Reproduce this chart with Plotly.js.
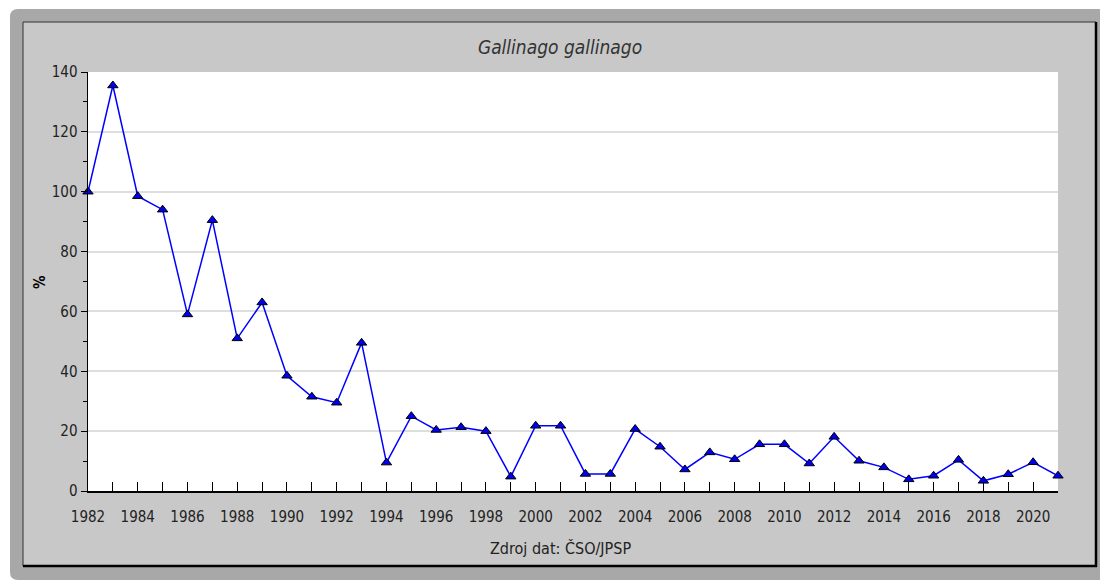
<!DOCTYPE html>
<html>
<head>
<meta charset="utf-8">
<script src="https://cdn.plot.ly/plotly-3.0.1.min.js"></script>
<style>
html,body{margin:0;padding:0;background:#fff;}
#chart{width:1100px;height:583px;}
</style>
</head>
<body>
<div id="chart"></div>
<script>
// Data
const years = [1982,1983,1984,1985,1986,1987,1988,1989,1990,1991,1992,1993,1994,1995,1996,1997,1998,1999,2000,2001,2002,2003,2004,2005,2006,2007,2008,2009,2010,2011,2012,2013,2014,2015,2016,2017,2018,2019,2020,2021];
const values = [100,135.5,98.5,94,59,90.5,51,63,38.5,31.5,29.5,49.5,9.5,25,20.4,21.3,20,4.8,21.8,21.8,5.7,5.7,20.7,14.8,7.2,12.9,10.6,15.6,15.6,9.2,18.1,10.1,7.9,3.9,5.1,10.4,3.4,5.6,9.6,5.1];
const xTickVals = years;
const xTickText = ['1982','','1984','','1986','','1988','','1990','','1992','','1994','','1996','','1998','','2000','','2002','','2004','','2006','','2008','','2010','','2012','','2014','','2016','','2018','','2020',''];
const yTickVals = [0,20,40,60,80,100,120,140];
const titleText = 'Gallinago gallinago';
const yTitleText = '%';
const sourceText = 'Zdroj dat: ČSO/JPSP';

const FONT = '"DejaVu Sans Condensed", "Liberation Sans Narrow", "DejaVu Sans", sans-serif';

// pixel -> paper helpers (plot area 88..1058 x 72..491)
const px = v => (v - 88) / 970;
const py = v => (491 - v) / 419;

const trace = {
  x: years,
  y: values,
  type: 'scatter',
  mode: 'lines+markers',
  line: {color: '#0000ff', width: 1.5},
  marker: {symbol: 'triangle-up', size: 9, color: '#0000ee', line: {color: '#000000', width: 1}},
  cliponaxis: false,
  hoverinfo: 'x+y'
};

const layout = {
  width: 1100,
  height: 583,
  margin: {l: 88, r: 42, t: 72, b: 92},
  paper_bgcolor: '#ffffff',
  plot_bgcolor: '#ffffff',
  showlegend: false,
  title: {
    text: titleText,
    x: px(560), xref: 'paper', xanchor: 'center',
    y: 1 - 47/583, yref: 'container', yanchor: 'middle',
    font: {family: FONT, size: 19, color: '#333333', style: 'italic'}
  },
  xaxis: {
    range: [1982, 2021],
    tickmode: 'array',
    tickvals: xTickVals,
    ticktext: xTickText,
    ticks: 'inside',
    ticklen: 9,
    tickwidth: 1,
    tickcolor: '#000000',
    ticklabelstandoff: 11,
    showgrid: false,
    zeroline: false,
    showline: true,
    linecolor: '#000000',
    linewidth: 2,
    tickfont: {family: FONT, size: 15, color: '#222222'},
    tickangle: 0,
    fixedrange: true
  },
  yaxis: {
    range: [0, 140],
    tickmode: 'array',
    tickvals: yTickVals,
    ticks: 'outside',
    ticklen: 6,
    tickwidth: 1,
    tickcolor: '#000000',
    minor: {tickmode: 'linear', dtick: 10, tick0: 0, ticks: 'outside', ticklen: 4, tickcolor: '#000000', showgrid: false},
    showgrid: true,
    gridcolor: '#dedede',
    gridwidth: 2,
    zeroline: false,
    showline: true,
    linecolor: '#000000',
    linewidth: 1.5,
    tickfont: {family: FONT, size: 15, color: '#222222'},
    fixedrange: true
  },
  annotations: [
    {text: yTitleText, xref: 'paper', yref: 'paper', x: px(40), y: py(282), xanchor: 'center', yanchor: 'middle',
     textangle: -90, showarrow: false, font: {family: FONT, size: 15, color: '#000000', weight: 'bold'}},
    {text: sourceText, xref: 'paper', yref: 'paper', x: px(560), y: py(548), xanchor: 'center', yanchor: 'middle',
     showarrow: false, font: {family: FONT, size: 16, color: '#222222'}}
  ],
  shapes: [
    // outer grey rounded frame
    {type: 'path', xref: 'paper', yref: 'paper', layer: 'below',
     path: 'M ' + px(10) + ',' + py(17) + ' Q ' + px(10) + ',' + py(9) + ' ' + px(18) + ',' + py(9) +
           ' L ' + px(1100) + ',' + py(9) + ' L ' + px(1100) + ',' + py(580) +
           ' L ' + px(18) + ',' + py(580) + ' Q ' + px(10) + ',' + py(580) + ' ' + px(10) + ',' + py(572) + ' Z',
     fillcolor: '#a8a8a8', line: {width: 0}},
    // inner light panel
    {type: 'rect', xref: 'paper', yref: 'paper', layer: 'below',
     x0: px(23), x1: px(1096), y0: py(566), y1: py(22),
     fillcolor: '#c8c8c8', line: {color: '#333333', width: 1}},
    // darker right and bottom edges
    {type: 'line', xref: 'paper', yref: 'paper', layer: 'below',
     x0: px(1096), x1: px(1096), y0: py(567), y1: py(22),
     line: {color: '#000000', width: 2.5}},
    {type: 'line', xref: 'paper', yref: 'paper', layer: 'below',
     x0: px(23), x1: px(1097), y0: py(566), y1: py(566),
     line: {color: '#000000', width: 2.5}},
    // plot area white background
    {type: 'rect', xref: 'paper', yref: 'paper', layer: 'below',
     x0: 0, x1: 1, y0: 0, y1: 1, fillcolor: '#ffffff', line: {width: 0}}
  ]
};

Plotly.newPlot('chart', [trace], layout, {displayModeBar: false, staticPlot: true});
</script>
</body>
</html>
